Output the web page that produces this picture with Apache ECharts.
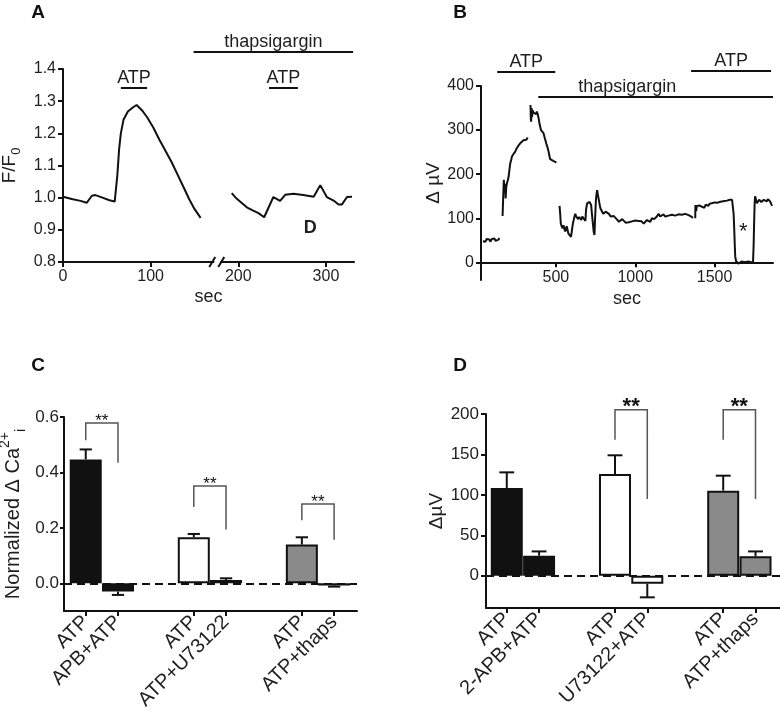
<!DOCTYPE html>
<html><head><meta charset="utf-8">
<script src="https://cdn.jsdelivr.net/npm/echarts@6/dist/echarts.min.js"></script>
<style>html,body{margin:0;padding:0;background:#fff}#c{width:780px;height:714px}</style>
</head><body><div id="c"></div>
<script>
// ---------------- Panel A data ----------------
const aTraceBeforeBreak = [[0,1.003],[10,0.996],[20,0.99],[27,0.984],[30,0.995],[33,1.006],[37,1.008],[45,1.0],[53,0.992],[59,0.988],[61,0.99],[62,1.07],[64,1.15],[66,1.2],[69,1.242],[74,1.268],[80,1.281],[84,1.288],[90,1.272],[96,1.25],[103,1.218],[110,1.18],[117,1.145],[124,1.11],[131,1.07],[138,1.03],[144,0.995],[150,0.965],[157,0.937]];
const aTraceAfterBreak = [[192.5,1.014],[197,1.0],[202,0.988],[209.7,0.97],[217,0.96],[223,0.952],[229.5,0.939],[240,1.002],[247.7,0.99],[253.5,1.009],[263,1.012],[274,1.008],[286,1.003],[293.5,1.039],[301,1.002],[308.7,0.991],[314.4,0.979],[318.3,0.979],[324,1.002],[329.7,1.003]];
const aXTicks = [0,100,200,300];
const aYTicks = [0.8,0.9,1.0,1.1,1.2,1.3,1.4];
const aAnnotLabels = ['thapsigargin','ATP','ATP'];
const aAnnotStart = [149,66,235];
const aAnnotEnd = [331,96,268];
const aAnnotLevel = [1.453,1.341,1.341];
const aBreakAt = [176,0.8];
const aNoteLabels = ['D'];
const aNotePos = [[282,0.906]];

// ---------------- Panel B data ----------------
const bTraceBaseline = [[40,48],[48,52],[56,47],[64,53],[72,49],[80,52],[88,47],[96,53],[104,50],[112,54],[120,49],[128,53],[136,51],[145,55]];
const bTraceAtpRise = [[164,105],[168,150],[172,187],[176,160],[180,178],[183,145],[187,170],[191,179],[196,185],[202,194],[207,210],[212,224],[218,232],[223,240],[233,246],[244,251],[249,256],[254,259],[264,265],[275,270],[285,274],[296,277],[302,281],[307,273],[314,278],[322,283]];
const bTraceAtpPeak = [[340,357],[342,325],[344,319],[347,350],[350,330],[353,345],[358,340],[363,338],[370,344],[375,336],[380,342],[386,335],[391,327],[398,312],[406,300],[414,296],[422,293],[430,282],[439,270],[446,262],[454,251],[460,240],[464,234],[470,238],[475,236],[483,230],[490,232],[496,228],[502,226]];
const bTraceThaps = [[523,128],[527,110],[531,88],[536,82],[542,77],[548,84],[554,81],[558,70],[563,73],[568,82],[574,78],[579,65],[584,69],[590,62],[595,58],[600,70],[603,78],[608,90],[612,96],[617,104],[622,110],[628,104],[633,102],[640,98],[647,103],[654,100],[660,96],[666,104],[671,105],[678,100],[686,94],[690,120],[697,134],[704,136],[712,137],[717,134],[722,130],[727,110],[733,88],[738,70],[743,62],[747,100],[752,141],[756,155],[760,164],[765,152],[771,141],[776,130],[781,122],[790,116],[798,110],[805,113],[813,115],[823,112],[834,110],[845,104],[855,100],[865,105],[876,103],[886,97],[897,92],[908,96],[918,98],[928,94],[939,90],[950,94],[960,91],[971,90],[980,93],[990,92],[1000,95],[1010,91],[1021,94],[1030,90],[1040,93],[1053,88],[1063,92],[1074,96],[1085,94],[1095,92],[1104,100],[1112,103],[1119,98],[1126,96],[1136,104],[1147,110],[1157,104],[1168,105],[1178,109],[1189,104],[1200,107],[1210,106],[1221,103],[1231,108],[1242,110],[1252,106],[1263,105],[1273,109],[1284,113],[1294,108],[1305,112],[1315,110],[1326,106],[1336,107],[1346,104],[1356,103],[1364,101]];
const bTraceAtp2 = [[1378,100],[1379,130],[1384,116],[1388,128],[1393,126],[1400,124],[1407,129],[1413,125],[1420,126],[1428,128],[1436,124],[1444,131],[1452,130],[1460,128],[1468,133],[1476,130],[1483,134],[1491,131],[1499,136],[1507,133],[1515,135],[1523,133],[1531,137],[1538,134],[1546,138],[1554,135],[1562,139],[1570,137],[1578,140],[1586,138],[1595,142],[1603,145],[1610,142],[1616,138],[1620,110],[1624,73],[1627,40],[1630,13],[1635,3],[1641,0],[1650,-3],[1656,1],[1662,-2],[1670,2],[1677,-2],[1683,1],[1690,-3],[1697,1],[1704,-2],[1712,2],[1718,-2],[1725,1],[1733,-2],[1742,-1],[1746,40],[1749,88],[1752,130],[1755,150],[1760,146],[1767,134],[1774,138],[1781,142],[1788,141],[1795,137],[1803,139],[1810,142],[1820,140],[1828,138],[1835,143],[1841,143],[1848,139],[1855,134],[1862,128]];
const bXTicks = [500,1000,1500];
const bYTicks = [0,100,200,300,400];
const bAnnotLabels = ['ATP','thapsigargin','ATP'];
const bAnnotStart = [130,389,1352];
const bAnnotEnd = [496,1868,1856];
const bAnnotLevel = [432,375,434];
const bAnnotTextX = [313,950,1604];
const bNoteLabels = ['*'];
const bNotePos = [[1680,70]];

// ---------------- Panel C data ----------------
const cCategories = ['ATP','APB+ATP','ATP','ATP+U73122','ATP','ATP+thaps'];
const cMeans = [0.447,-0.030,0.166,0.012,0.140,-0.008];
const cErrors = [0.036,0.012,0.012,0.006,0.026,0.004];
const cYTicks = [0,0.2,0.4,0.6];
// bracket: [leftBar, rightBar, leftFoot, top, rightFoot]
const cBrackets = [[0,1,0.516,0.578,0.435],[2,3,0.275,0.351,0.194],[4,5,0.227,0.286,0.157]];

// ---------------- Panel D data ----------------
const dCategories = ['ATP','2-APB+ATP','ATP','U73122+ATP','ATP','ATP+thaps'];
const dMeans = [108.5,24.7,125.8,-9.9,105.2,23.9];
const dErrors = [19.3,5.3,23.1,16.9,18.5,6.1];
const dYTicks = [0,50,100,150,200];
const dBrackets = [[2,3,168,205.4,95],[4,5,168,205.4,95]];

// ---------------- styling ----------------
const FONT = '"Liberation Sans", Arial, Helvetica, sans-serif';
const INK = '#111';
const TXT = '#1e1e1e';
const groupFill = ['#111111','#ffffff','#8a8a8a'];
const GROUP_STEP = 3.35;
function xPos(i){ return Math.floor(i/2)*GROUP_STEP + (i%2); }
function barData(means){ return means.map((m,i)=>({value:[xPos(i),m], itemStyle:{color:groupFill[Math.floor(i/2)]}})); }
function errData(means,errs){ return means.map((m,i)=>[xPos(i),m,errs[i]]); }
function labelFor(cats){ return function(v){ let best=0,bd=1e9; cats.forEach((c,i)=>{const d=Math.abs(xPos(i)-v); if(d<bd){bd=d;best=i;}}); return cats[best]; }; }

function axisBase(){ return {
  type:'value', splitLine:{show:false},
  axisLine:{show:true,onZero:false,lineStyle:{color:INK,width:2}},
  axisTick:{show:true,length:5,lineStyle:{color:INK,width:2}},
  axisLabel:{color:TXT,fontSize:16,fontFamily:FONT,margin:7,formatter:v=>String(v)},
  nameTextStyle:{color:TXT,fontSize:18,fontFamily:FONT},
  nameLocation:'middle'
};}

function annotRender(labels, textX){ return function(params, api){
  const i = params.dataIndex;
  const a = api.coord([api.value(0), api.value(2)]);
  const b = api.coord([api.value(1), api.value(2)]);
  const tx = textX ? api.coord([textX[i], api.value(2)])[0] : (a[0]+b[0])/2;
  return {type:'group', children:[
    {type:'line', shape:{x1:a[0],y1:a[1],x2:b[0],y2:b[1]}, style:{stroke:INK,lineWidth:2}},
    {type:'text', x:tx, y:a[1]-10, style:{text:labels[i], fill:TXT, fontSize:18, fontFamily:FONT, align:'center', verticalAlign:'middle'}}
  ]};
};}
function noteRender(labels, font){ return function(params, api){
  const p = api.coord([api.value(0), api.value(1)]);
  return {type:'text', x:p[0], y:p[1], style:{text:labels[params.dataIndex], fill:TXT, font:font, align:'center', verticalAlign:'middle'}};
};}
function breakRender(params, api){
  const p = api.coord([api.value(0), api.value(1)]);
  return {type:'group', children:[
    {type:'rect', shape:{x:p[0]-3, y:p[1]-3, width:6, height:6}, style:{fill:'#fff'}},
    {type:'line', shape:{x1:p[0]-8,y1:p[1]+5,x2:p[0]-2,y2:p[1]-5}, style:{stroke:INK,lineWidth:2}},
    {type:'line', shape:{x1:p[0]+1,y1:p[1]+5,x2:p[0]+7,y2:p[1]-5}, style:{stroke:INK,lineWidth:2}}
  ]};
}
function errRender(capUnits){ return function(params, api){
  const x = api.value(0), m = api.value(1), e = api.value(2);
  const tip = m >= 0 ? m + e : m - e;
  const p0 = api.coord([x,m]), p1 = api.coord([x,tip]);
  const half = api.size([capUnits,0])[0]/2;
  return {type:'group', children:[
    {type:'line', shape:{x1:p0[0],y1:p0[1],x2:p1[0],y2:p1[1]}, style:{stroke:INK,lineWidth:2}},
    {type:'line', shape:{x1:p1[0]-half,y1:p1[1],x2:p1[0]+half,y2:p1[1]}, style:{stroke:INK,lineWidth:2}}
  ]};
};}
function bracketRender(font, starDy){ return function(params, api){
  const xl = xPos(api.value(0)), xr = xPos(api.value(1));
  const pl = api.coord([xl, api.value(2)]), tl = api.coord([xl, api.value(3)]);
  const tr = api.coord([xr, api.value(3)]), pr = api.coord([xr, api.value(4)]);
  return {type:'group', children:[
    {type:'polyline', shape:{points:[pl,tl,tr,pr]}, style:{stroke:'#555',lineWidth:1.5,fill:null}},
    {type:'text', x:(tl[0]+tr[0])/2, y:tl[1]+starDy, style:{text:'**', fill:INK, font:font, align:'center', verticalAlign:'middle'}}
  ]};
};}
function traceSeries(data, xi){ return {type:'line', xAxisIndex:xi, yAxisIndex:xi, data:data, showSymbol:false, symbol:'none', lineStyle:{color:INK,width:2}, silent:true}; }

const xA = Object.assign(axisBase(), {gridIndex:0, min:0, max:332, name:'sec', nameGap:26});
xA.axisTick.customValues = aXTicks; xA.axisLabel.customValues = aXTicks;
const yA = Object.assign(axisBase(), {gridIndex:0, min:0.8, max:1.4, name:'F/F{sub|0}', nameGap:40});
yA.axisTick.customValues = aYTicks; yA.axisLabel.customValues = aYTicks; yA.axisLabel.formatter = v=>v.toFixed(1);
yA.nameTextStyle.fontSize = 19;
yA.nameTextStyle.rich = {sub:{fontSize:13,verticalAlign:'bottom',lineHeight:26,padding:[10,0,0,0]}};

// B: x axis drawn at y = 0 (the y axis runs down to -40)
const bGridHeight = 194, bYMin = -40, bYMax = 400;
const xB = Object.assign(axisBase(), {gridIndex:1, min:28, max:1868, name:'sec', nameGap:28,
  offset: -bGridHeight * (0 - bYMin) / (bYMax - bYMin)});
xB.axisTick.customValues = bXTicks; xB.axisLabel.customValues = bXTicks;
const yB = Object.assign(axisBase(), {gridIndex:1, min:bYMin, max:bYMax, name:'Δ µV', nameGap:36});
yB.nameTextStyle.fontSize = 19;
yB.axisTick.customValues = bYTicks; yB.axisLabel.customValues = bYTicks;

const cPos = cCategories.map((c,i)=>xPos(i));
const xC = Object.assign(axisBase(), {gridIndex:2, min:-0.674, max:8.41});
xC.axisTick.customValues = cPos; xC.axisLabel.customValues = cPos;
Object.assign(xC.axisLabel, {rotate:45, fontSize:20, margin:8, formatter:labelFor(cCategories)});
const yC = Object.assign(axisBase(), {gridIndex:2, min:-0.1, max:0.6, name:'Normalized Δ Ca{sup|2+}{sub|i}', nameGap:36});
yC.axisTick.customValues = cYTicks; yC.axisLabel.customValues = cYTicks; yC.axisLabel.formatter = v=>v.toFixed(1);
yC.axisLabel.fontSize = 17; yC.axisTick.length = 4; yC.axisLabel.margin = 5;
yC.nameTextStyle.fontSize = 20;
yC.nameTextStyle.lineHeight = 30;
yC.nameTextStyle.rich = {sup:{fontSize:14,verticalAlign:'top',lineHeight:13}, sub:{fontSize:14,verticalAlign:'bottom',lineHeight:13}};

const dPos = dCategories.map((c,i)=>xPos(i));
const xD = Object.assign(axisBase(), {gridIndex:3, min:-0.643, max:8.52});
xD.axisTick.customValues = dPos; xD.axisLabel.customValues = dPos;
Object.assign(xD.axisLabel, {rotate:45, fontSize:20, margin:8, formatter:labelFor(dCategories)});
const yD = Object.assign(axisBase(), {gridIndex:3, min:-40, max:200, name:'ΔµV', nameGap:34});
yD.nameTextStyle.fontSize = 19;
yD.axisTick.customValues = dYTicks; yD.axisLabel.customValues = dYTicks;
yD.axisLabel.fontSize = 17;

const zeroLine = {silent:true, symbol:'none', label:{show:false}, lineStyle:{color:INK,type:[8,5],width:2}, data:[{yAxis:0}]};

const option = {
  animation:false,
  backgroundColor:'#fff',
  grid:[
    {left:63, top:69, width:291, height:193, outerBoundsMode:'none', containLabel:false},
    {left:481, top:86, width:292, height:bGridHeight, outerBoundsMode:'none', containLabel:false},
    {left:64, top:417, width:293, height:194, outerBoundsMode:'none', containLabel:false},
    {left:486, top:414, width:296, height:194, outerBoundsMode:'none', containLabel:false}
  ],
  xAxis:[xA,xB,xC,xD],
  yAxis:[yA,yB,yC,yD],
  graphic:[
    {type:'text', x:38, y:13, style:{text:'A', font:'bold 19px '+FONT, fill:INK, align:'center', verticalAlign:'middle'}},
    {type:'text', x:460, y:13, style:{text:'B', font:'bold 19px '+FONT, fill:INK, align:'center', verticalAlign:'middle'}},
    {type:'text', x:38, y:366, style:{text:'C', font:'bold 19px '+FONT, fill:INK, align:'center', verticalAlign:'middle'}},
    {type:'text', x:460, y:366, style:{text:'D', font:'bold 19px '+FONT, fill:INK, align:'center', verticalAlign:'middle'}}
  ],
  series:[
    traceSeries(aTraceBeforeBreak,0),
    traceSeries(aTraceAfterBreak,0),
    {type:'custom', xAxisIndex:0, yAxisIndex:0, clip:false, silent:true, renderItem:annotRender(aAnnotLabels,null),
      data:aAnnotLabels.map((l,i)=>[aAnnotStart[i],aAnnotEnd[i],aAnnotLevel[i]])},
    {type:'custom', xAxisIndex:0, yAxisIndex:0, clip:false, silent:true, renderItem:breakRender, data:[aBreakAt], z:5},
    {type:'custom', xAxisIndex:0, yAxisIndex:0, clip:false, silent:true, renderItem:noteRender(aNoteLabels,'bold 18px '+FONT), data:aNotePos},

    traceSeries(bTraceBaseline,1),
    traceSeries(bTraceAtpRise,1),
    traceSeries(bTraceAtpPeak,1),
    traceSeries(bTraceThaps,1),
    traceSeries(bTraceAtp2,1),
    {type:'custom', xAxisIndex:1, yAxisIndex:1, clip:false, silent:true, renderItem:annotRender(bAnnotLabels,bAnnotTextX),
      data:bAnnotLabels.map((l,i)=>[bAnnotStart[i],bAnnotEnd[i],bAnnotLevel[i]])},
    {type:'custom', xAxisIndex:1, yAxisIndex:1, clip:false, silent:true, renderItem:noteRender(bNoteLabels,'22px '+FONT), data:bNotePos},

    {type:'bar', xAxisIndex:2, yAxisIndex:2, barWidth:32, data:barData(cMeans), itemStyle:{borderColor:INK,borderWidth:2}, silent:true, markLine:zeroLine},
    {type:'custom', xAxisIndex:2, yAxisIndex:2, clip:false, silent:true, renderItem:errRender(0.38), data:errData(cMeans,cErrors), z:4},
    {type:'custom', xAxisIndex:2, yAxisIndex:2, clip:false, silent:true, renderItem:bracketRender('17px '+FONT,-2), data:cBrackets},

    {type:'bar', xAxisIndex:3, yAxisIndex:3, barWidth:32, data:barData(dMeans), itemStyle:{borderColor:INK,borderWidth:2}, silent:true, markLine:zeroLine},
    {type:'custom', xAxisIndex:3, yAxisIndex:3, clip:false, silent:true, renderItem:errRender(0.46), data:errData(dMeans,dErrors), z:4},
    {type:'custom', xAxisIndex:3, yAxisIndex:3, clip:false, silent:true, renderItem:bracketRender('bold 22px '+FONT,-3), data:dBrackets}
  ]
};
const chart = echarts.init(document.getElementById('c'));
chart.setOption(option);
</script></body></html>
